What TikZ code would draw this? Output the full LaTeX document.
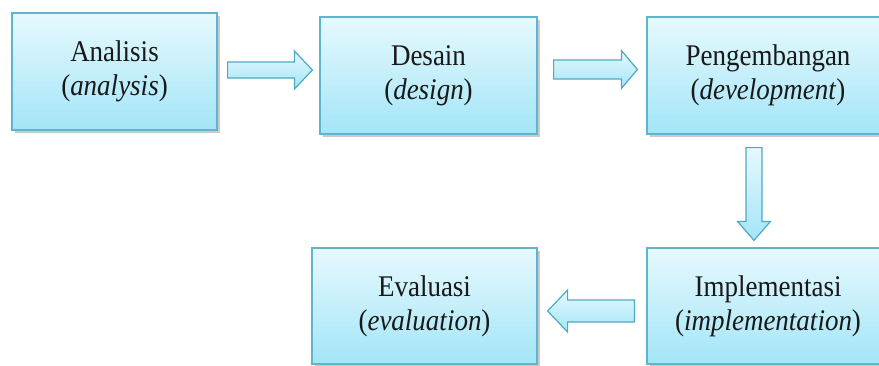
\documentclass[tikz,border=0pt]{standalone}
\usepackage{fontspec}
\setmainfont{Liberation Serif}[FakeStretch=0.9]
\usetikzlibrary{calc,shadows}
\definecolor{boxtop}{HTML}{E6F9FE}
\definecolor{boxbot}{HTML}{A3E5F7}
\definecolor{boxline}{HTML}{5FB5CD}
\definecolor{arrline}{HTML}{4FA9C3}
\tikzset{
  stage/.style={draw=boxline, line width=1.2pt, top color=boxtop, bottom color=boxbot,
    drop shadow={shadow xshift=2.5pt, shadow yshift=-2.5pt, opacity=0.35, fill=black!60},
    align=center, inner sep=0pt, font=\fontsize{30}{34}\selectfont, text=black!90},
  blockarrow/.style={draw=arrline, line width=1.2pt, top color=boxtop, bottom color=boxbot, line join=miter},
  blockarrowv/.style={draw=arrline, line width=1.2pt, left color=boxtop, right color=boxbot, shading angle=0, line join=miter}
}
\begin{document}
\begin{tikzpicture}[x=1pt,y=-1pt]
\useasboundingbox (0,0) rectangle (879,365);
\clip (0,0) rectangle (879,365);
\node[stage, minimum width=205pt, minimum height=117pt] (a) at (114.5,71.5) {Analisis\\(\textit{analysis})};
\node[stage, minimum width=217pt, minimum height=117pt] (b) at (428.5,75.5) {Desain\\(\textit{design})};
\node[stage, minimum width=242pt, minimum height=117pt] (c) at (768,75.5) {Pengembangan\\(\textit{development})};
\node[stage, minimum width=225pt, minimum height=116pt] (e) at (424.5,306) {Evaluasi\\(\textit{evaluation})};
\node[stage, minimum width=242pt, minimum height=116pt] (d) at (768,306) {Implementasi\\(\textit{implementation})};
% arrow a -> b
\coordinate (s1) at ($(a.east)+(10,-1.5)$);
\coordinate (e1) at ($(b.west)+(-7,-5.5)$);
\draw[blockarrow] let \p1=(s1), \p2=(e1) in
  (\x1,\y1+8pt) -- (\x2-18pt,\y1+8pt) -- (\x2-18pt,\y1+19pt) -- (\x2,\y1) -- (\x2-18pt,\y1-19pt) -- (\x2-18pt,\y1-8pt) -- (\x1,\y1-8pt) -- cycle;
% arrow b -> c
\coordinate (s2) at ($(b.east)+(16,-6)$);
\coordinate (e2) at ($(c.west)+(-9,-6)$);
\draw[blockarrow] let \p1=(s2), \p2=(e2) in
  (\x1,\y1+9.5pt) -- (\x2-16pt,\y1+9.5pt) -- (\x2-16pt,\y1+19pt) -- (\x2,\y1) -- (\x2-16pt,\y1-19pt) -- (\x2-16pt,\y1-9.5pt) -- (\x1,\y1-9.5pt) -- cycle;
% arrow c -> d
\coordinate (s3) at ($(c.south)+(-14,13)$);
\coordinate (e3) at ($(d.north)+(-14,-7)$);
\draw[blockarrowv] let \p1=(s3), \p2=(e3) in
  (\x1-8pt,\y1) -- (\x1-8pt,\y2+19pt) -- (\x1-16.5pt,\y2+19pt) -- (\x1,\y2) -- (\x1+16.5pt,\y2+19pt) -- (\x1+8pt,\y2+19pt) -- (\x1+8pt,\y1) -- cycle;
% arrow d -> e
\coordinate (s4) at ($(d.west)+(-12,5)$);
\coordinate (e4) at ($(e.east)+(10,5)$);
\draw[blockarrow] let \p1=(s4), \p2=(e4) in
  (\x1,\y1+11pt) -- (\x2+20pt,\y1+11pt) -- (\x2+20pt,\y1+21pt) -- (\x2,\y1) -- (\x2+20pt,\y1-21pt) -- (\x2+20pt,\y1-11pt) -- (\x1,\y1-11pt) -- cycle;
\end{tikzpicture}
\end{document}
